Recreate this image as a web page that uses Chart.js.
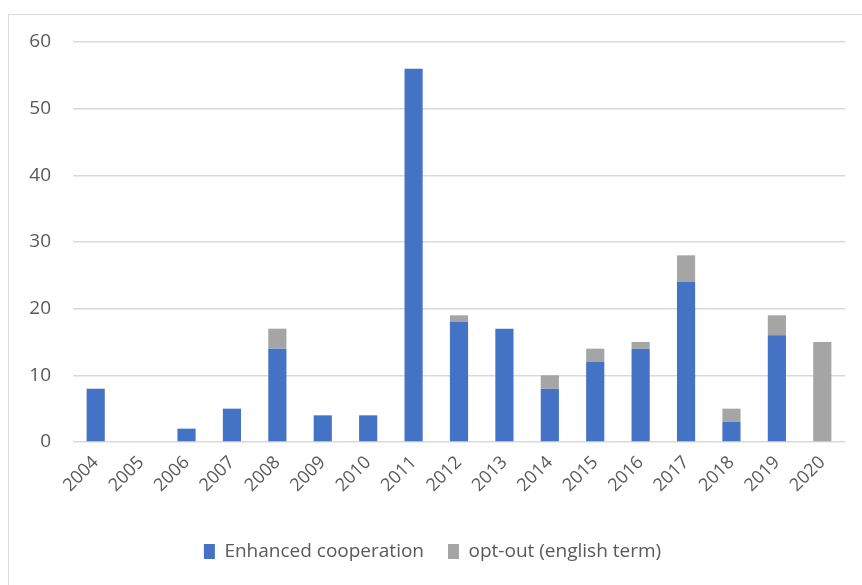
<!DOCTYPE html>
<html>
<head>
<meta charset="utf-8">
<script src="https://cdn.jsdelivr.net/npm/chart.js@4"></script>
<style>
    body { margin: 0; background: #ffffff; }
    #frame { position: absolute; left: 8px; top: 14px; width: 860px; height: 580px; border: 1px solid #d9d9d9; }
    #chart { position: absolute; left: 0; top: 0; }
</style>
</head>
<body>
<div id="frame"></div>
<canvas id="chart" width="862" height="585"></canvas>
<script>
const years = ["2004","2005","2006","2007","2008","2009","2010","2011","2012","2013","2014","2015","2016","2017","2018","2019","2020"];
const enhancedCooperation = [8, 0, 2, 5, 14, 4, 4, 56, 18, 17, 8, 12, 14, 24, 3, 16, 0];
const optOut = [0, 0, 0, 0, 3, 0, 0, 0, 1, 0, 2, 2, 1, 4, 2, 3, 15];
const yTicks = [0, 10, 20, 30, 40, 50, 60];

const textColor = "#595959";
const fontFamily = "'Open Sans', 'Liberation Sans', sans-serif";

new Chart(document.getElementById("chart"), {
    type: "bar",
    data: {
        labels: years,
        datasets: [{
            label: "Enhanced cooperation",
            data: enhancedCooperation,
            backgroundColor: "#4472C4",
            barPercentage: 0.4,
            categoryPercentage: 1
        }, {
            label: "opt-out (english term)",
            data: optOut,
            backgroundColor: "#A5A5A5",
            barPercentage: 0.4,
            categoryPercentage: 1
        }]
    },
    options: {
        responsive: false,
        animation: false,
        layout: { padding: { left: 20, right: 17, top: 42, bottom: 14 } },
        scales: {
            x: {
                stacked: true,
                grid: { display: false },
                border: { display: false },
                ticks: {
                    color: textColor,
                    font: { family: fontFamily, size: 18 },
                    maxRotation: 45,
                    minRotation: 45,
                    padding: 2
                },
                afterFit: axis => { axis.height = 76; }
            },
            y: {
                stacked: true,
                min: 0,
                max: 60,
                afterBuildTicks: axis => { axis.ticks = yTicks.map(v => ({ value: v })); },
                grid: { color: "#d9d9d9", lineWidth: 1.5, drawTicks: false },
                border: { display: false },
                ticks: {
                    color: textColor,
                    font: { family: fontFamily, size: 19 },
                    padding: 22
                },
                afterFit: axis => { axis.width = 53; }
            }
        },
        plugins: {
            legend: {
                position: "bottom",
                labels: {
                    color: textColor,
                    font: { family: fontFamily, size: 19 },
                    boxWidth: 11,
                    boxHeight: 15,
                    padding: 24
                }
            },
            tooltip: { enabled: false }
        }
    }
});
</script>
</body>
</html>
